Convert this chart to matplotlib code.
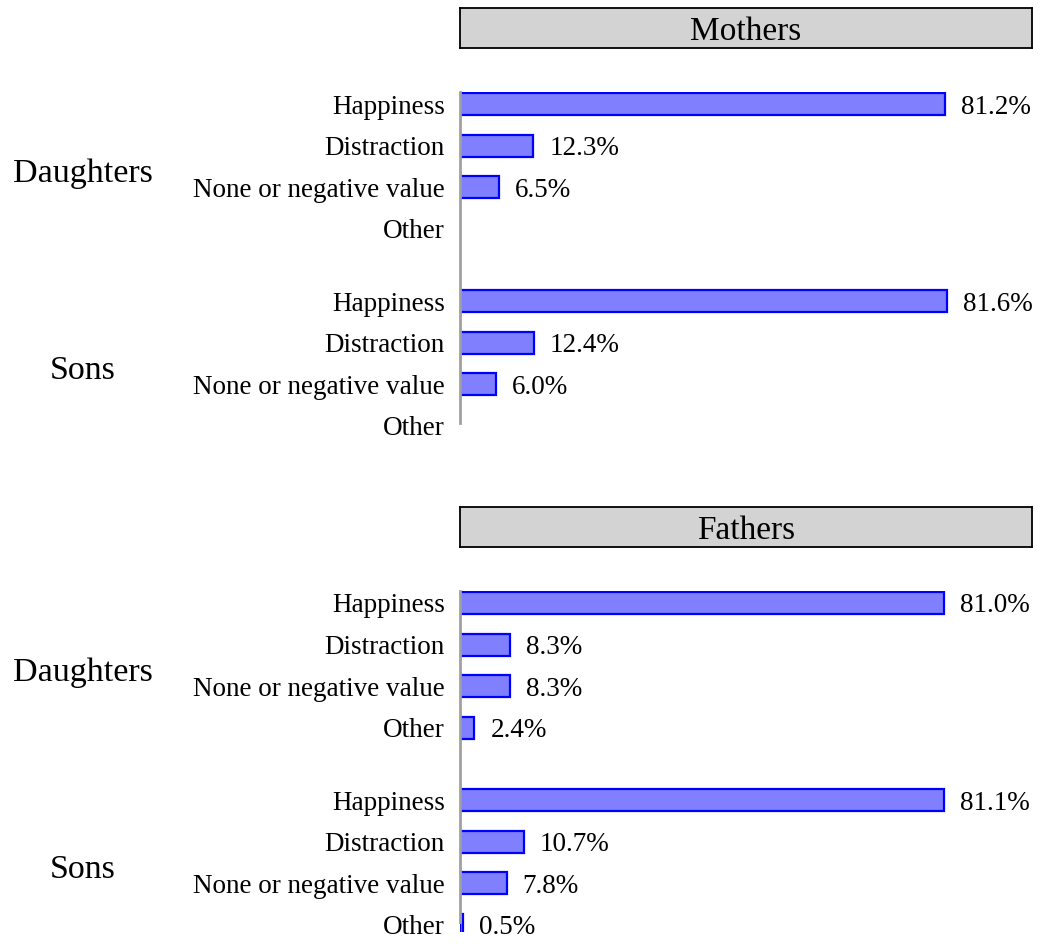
import numpy as np
import matplotlib as mpl
mpl.use('Agg')
import matplotlib.pyplot as plt

mpl.rcParams['font.family'] = ['Liberation Serif', 'DejaVu Serif']

categories = ["Happiness", "Distraction", "None or negative value", "Other"]
groups = ["Daughters", "Sons"]
panels = ["Mothers", "Fathers"]

# percent per panel -> group -> category (None = no bar)
mothers_daughters = [81.2, 12.3, 6.5, None]
mothers_sons = [81.6, 12.4, 6.0, None]
fathers_daughters = [81.0, 8.3, 8.3, 2.4]
fathers_sons = [81.1, 10.7, 7.8, 0.5]

values = {
    "Mothers": [mothers_daughters, mothers_sons],
    "Fathers": [fathers_daughters, fathers_sons],
}

W, H = 1041, 944
fig = plt.figure(figsize=(W / 100, H / 100), dpi=100)

px_per_pct = 5.97
ax_left, ax_right = 460, 1032
xmax = (ax_right - ax_left) / px_per_pct
row_px = 41.6
group_offset = 4.74

def fx(px):
    return px / W

def fy(py):
    return 1 - py / H

def draw_panel(name, shift):
    # header box
    hx0, hx1, hy0, hy1 = 460, 1032, 8 + shift, 48 + shift
    hax = fig.add_axes([fx(hx0), fy(hy1), fx(hx1 - hx0), (hy1 - hy0) / H])
    hax.set_facecolor('#d3d3d3')
    hax.set_xticks([])
    hax.set_yticks([])
    for s in hax.spines.values():
        s.set_linewidth(1.3)
        s.set_color('black')
    hax.text(0.5, 0.5, name, ha='center', va='center_baseline', fontsize=24,
             transform=hax.transAxes)

    # bar axes
    first = 104 + shift
    ylo, yhi = -0.3, 7.9
    top_px = first + ylo * row_px
    bot_px = first + yhi * row_px
    ax = fig.add_axes([fx(ax_left), fy(bot_px), fx(ax_right - ax_left),
                       (bot_px - top_px) / H])
    pos, labels, vals = [], [], []
    for gi, g in enumerate(groups):
        for ci, c in enumerate(categories):
            pos.append(gi * group_offset + ci)
            labels.append(c)
            vals.append(values[name][gi][ci])
    for p, v in zip(pos, vals):
        if v is None:
            continue
        ax.barh(p, v, height=0.53, color='#8080ff', edgecolor='#0000ff',
                linewidth=1.6)
        ax.text(v + 16 / px_per_pct, p, "%.1f%%" % v, va='center_baseline',
                ha='left', fontsize=19.5)
    ax.set_ylim(yhi, ylo)
    ax.set_xlim(0, xmax)
    ax.set_yticks(pos)
    ax.set_yticklabels(labels, fontsize=19.5, va='center_baseline')
    ax.tick_params(axis='y', length=0, pad=11)
    ax.set_xticks([])
    for s in ['top', 'right', 'bottom']:
        ax.spines[s].set_visible(False)
    ax.spines['left'].set_color('#a0a0a0')
    ax.spines['left'].set_linewidth(2)
    ax.spines['left'].set_bounds(ylo, pos[-1] - 0.08)
    ax.patch.set_alpha(0)
    for gi, g in enumerate(groups):
        ax.text((83 - ax_left) / (ax_right - ax_left), gi * group_offset + 1.6,
                g, ha='center', va='center_baseline', fontsize=24.5,
                transform=ax.get_yaxis_transform(), clip_on=False)

draw_panel("Mothers", 0)
draw_panel("Fathers", 499)

plt.savefig("out.png", dpi=100)
